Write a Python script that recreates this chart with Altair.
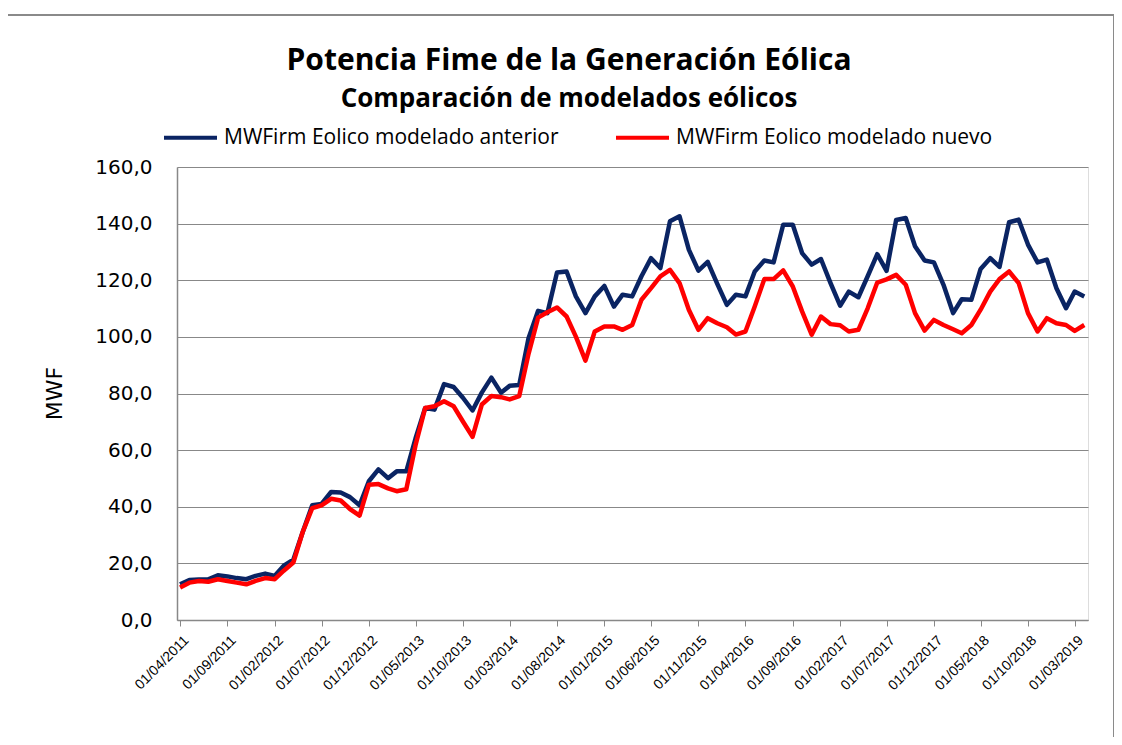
import altair as alt
import pandas as pd

# Monthly dates from 01/04/2011 to 01/04/2019
months = [d.strftime("%Y-%m-%d") for d in pd.date_range("2011-04-01", periods=97, freq="MS")]

anterior = [
    12.6, 14.1, 14.3, 14.4, 15.8, 15.4, 14.8, 14.4, 15.6, 16.4,
    15.6, 19.2, 21.3, 31.0, 40.5, 41.0, 45.2, 45.0, 43.4, 40.5,
    49.0, 53.2, 50.1, 52.5, 52.5, 64.2, 74.9, 74.3, 83.3, 82.3,
    78.5, 74.0, 80.3, 85.6, 80.3, 82.7, 83.0, 99.5, 109.2, 108.4,
    122.7, 123.1, 114.3, 108.4, 114.3, 118.0, 110.7, 114.9, 114.3, 121.4,
    127.8, 124.3, 140.8, 142.6, 130.8, 123.4, 126.5, 118.7, 111.3, 114.9,
    114.3, 123.1, 127.0, 126.3, 139.6, 139.6, 129.6, 125.5, 127.5, 119.0,
    111.0, 116.0, 114.0, 121.4, 129.2, 123.3, 141.3, 142.0, 132.0, 127.0,
    126.3, 118.4, 108.4, 113.3, 113.1, 124.0, 127.8, 124.7, 140.5, 141.4,
    132.6, 126.3, 127.3, 117.2, 110.1, 116.0, 114.3,
]

nuevo = [
    11.5, 13.2, 13.8, 13.5, 14.4, 13.8, 13.2, 12.6, 13.8, 14.8,
    14.4, 17.4, 20.3, 31.0, 39.5, 40.5, 42.8, 42.2, 39.2, 36.9,
    47.8, 48.0, 46.5, 45.5, 46.2, 61.8, 74.9, 75.5, 77.3, 75.5,
    70.1, 64.7, 76.1, 79.1, 78.7, 77.9, 79.1, 94.0, 106.8, 108.7,
    110.4, 107.2, 100.1, 91.6, 101.9, 103.7, 103.7, 102.5, 104.2, 113.1,
    117.2, 121.4, 123.7, 119.0, 109.6, 102.5, 106.6, 104.8, 103.4, 100.8,
    101.9, 110.7, 120.4, 120.4, 123.5, 117.8, 109.0, 100.8, 107.2, 104.5,
    104.1, 101.9, 102.5, 110.1, 119.2, 120.3, 121.9, 118.4, 108.4, 102.2,
    106.0, 104.2, 102.7, 101.3, 104.2, 109.6, 116.0, 120.4, 123.1, 119.0,
    108.4, 101.9, 106.6, 104.8, 104.2, 102.1, 104.2,
]

series_names = ["MWFirm Eolico modelado  anterior", "MWFirm Eolico modelado  nuevo"]
series_colors = ["#0A2463", "#FF0000"]

title_text = "Potencia Fime de la Generación Eólica"
subtitle_text = "Comparación de modelados eólicos"

y_ticks = [0, 20, 40, 60, 80, 100, 120, 140, 160]
x_tick_months = [(2011 + (3 + 5 * k) // 12, (3 + 5 * k) % 12 + 1) for k in range(20)]

rows = []
for d, a, n in zip(months, anterior, nuevo):
    rows.append({"fecha": d, "serie": series_names[0], "valor": a})
    rows.append({"fecha": d, "serie": series_names[1], "valor": n})
df = pd.DataFrame(rows)

x_values = [alt.DateTime(year=y, month=m, date=1, utc=True) for y, m in x_tick_months]

PL, PT = 169, 159
W, H = 911, 453

lines = alt.Chart(df).mark_line(strokeWidth=4.5, strokeJoin="round").encode(
    x=alt.X(
        "fecha:T",
        scale=alt.Scale(
            type="utc",
            domain=[alt.DateTime(year=2011, month=3, date=22, utc=True),
                    alt.DateTime(year=2019, month=4, date=13, utc=True)],
        ),
        axis=alt.Axis(
            values=x_values,
            labelExpr="utcFormat(datum.value, '%d/%m/%Y')",
            labelAngle=-45,
            labelAlign="right",
            labelBaseline="middle",
            labelFont="Liberation Sans",
            labelFontSize=14,
            labelColor="#000000",
            labelPadding=12,
            labelOffset=6,
            labelOverlap=False,
            tickSize=6,
            tickColor="#888888",
            domainColor="#888888",
            domainWidth=1.5,
            grid=False,
            title=None,
        ),
    ),
    y=alt.Y(
        "valor:Q",
        scale=alt.Scale(domain=[0, 160], nice=False),
        axis=alt.Axis(
            values=y_ticks,
            labelExpr="replace(format(datum.value, '.1f'), '.', ',')",
            labelFont="DejaVu Sans",
            labelFontSize=20,
            labelColor="#000000",
            labelPadding=25,
            ticks=False,
            domainColor="#888888",
            domainWidth=1.5,
            grid=True,
            gridColor="#888888",
            gridWidth=1.2,
            title="MWF",
            titleFont="DejaVu Sans",
            titleFontSize=22,
            titleFontWeight="normal",
            titleColor="#000000",
            titleAngle=-90,
            titleAlign="center",
            titleBaseline="middle",
            titleX=-123,
            titleY=226,
        ),
    ),
    color=alt.Color(
        "serie:N",
        scale=alt.Scale(domain=series_names, range=series_colors),
        legend=alt.Legend(
            title=None,
            orient="none",
            legendX=-15,
            legendY=-58,
            direction="horizontal",
            symbolType="stroke",
            symbolSize=2809,
            symbolStrokeWidth=4,
            labelFont="Open Sans",
            labelFontSize=21,
            labelColor="#000000",
            labelOffset=5,
            labelLimit=500,
            columnPadding=44,
        ),
    ),
)

one = pd.DataFrame({"k": [0]})

# decorative frame around the whole chart
frame = alt.Chart(one).mark_rect(
    filled=False, stroke="#8a8a8a", strokeWidth=2
).encode(
    x=alt.value(-172), x2=alt.value(937), y=alt.value(-152), y2=alt.value(575)
)

title_mark = alt.Chart(one).mark_text(
    text=title_text, font="Open Sans", fontSize=30, fontWeight="bold",
    color="#000000", align="center", baseline="alphabetic",
).encode(x=alt.value(392), y=alt.value(-97))

subtitle_mark = alt.Chart(one).mark_text(
    text=subtitle_text, font="Open Sans", fontSize=26, fontWeight="bold",
    color="#000000", align="center", baseline="alphabetic",
).encode(x=alt.value(392), y=alt.value(-60))

chart = alt.layer(frame, title_mark, subtitle_mark, lines).properties(
    width=W,
    height=H,
    autosize=alt.AutoSizeParams(type="none"),
    padding={"left": PL, "top": PT, "right": 1106 - PL - W, "bottom": 729 - PT - H},
).configure_view(stroke=None).configure(background="white")

chart.save("out.html", embed_options={"renderer": "svg", "actions": False})
